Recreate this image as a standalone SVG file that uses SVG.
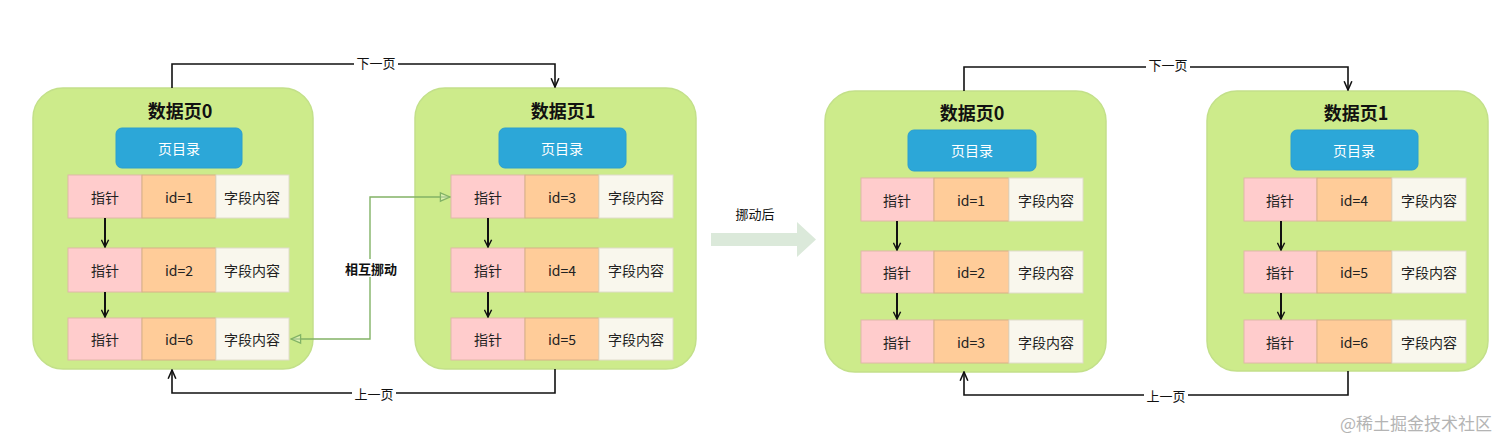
<svg xmlns="http://www.w3.org/2000/svg" width="1512" height="447" viewBox="0 0 1512 447">
<defs>
<style>
.page{fill:#cdeb8b;stroke:#c3e08a;stroke-width:1.5}
.dir{fill:#2ca7d8;stroke:#2a9fcf;stroke-width:1}
.ptr{fill:#ffcccc;stroke:#e0b8a8;stroke-width:1}
.id{fill:#ffcc99;stroke:#d8b088;stroke-width:1}
.fld{fill:#f9f7ed;stroke:#e0dccb;stroke-width:1}
text{font-family:"Noto Sans CJK SC","Liberation Sans",sans-serif;text-anchor:middle;dominant-baseline:central}
.title{font-size:18px;font-weight:bold;fill:#111}
.cell{font-size:14px;fill:#222}
.dirt{font-size:14px;fill:#fff}
.lbl{font-size:13px;fill:#111}
.blk{fill:none;stroke:#111;stroke-width:1.6}
.vptr{fill:none;stroke:#111;stroke-width:2}
.grn{fill:none;stroke:#82b366;stroke-width:1.4}
</style>
<marker id="ah" viewBox="0 0 10 10" refX="9" refY="5" markerWidth="9" markerHeight="9" markerUnits="userSpaceOnUse" orient="auto">
<path d="M1,1 L9,5 L1,9" fill="none" stroke="#111" stroke-width="1.6"/>
</marker>
<marker id="ah2" viewBox="0 0 10 10" refX="9" refY="5" markerWidth="11" markerHeight="11" markerUnits="userSpaceOnUse" orient="auto">
<path d="M1,1.5 L9,5 L1,8.5" fill="none" stroke="#111" stroke-width="1.4"/>
</marker>
<marker id="ahg" viewBox="0 0 10 10" refX="9" refY="5" markerWidth="12" markerHeight="12" markerUnits="userSpaceOnUse" orient="auto">
<path d="M1,1.5 L9,5 L1,8.5 Z" fill="#ffffff" fill-opacity="0.3" stroke="#82b366" stroke-width="1.1"/>
</marker>
</defs>
<rect width="1512" height="447" fill="#ffffff"/>

<g id="page0-before">
<rect class="page" x="33" y="88" width="280" height="281" rx="30"/>
<text class="title" x="180" y="110">数据页0</text>
<rect class="dir" x="116" y="128" width="126" height="40" rx="6"/>
<text class="dirt" x="179" y="148">页目录</text>
<rect class="ptr" x="68" y="175" width="74" height="43"/><rect class="id" x="142" y="175" width="74" height="43"/><rect class="fld" x="216" y="175" width="73" height="43"/>
<text class="cell" x="105" y="197">指针</text><text class="cell" x="179" y="197">id=1</text><text class="cell" x="252" y="197">字段内容</text>
<rect class="ptr" x="68" y="248" width="74" height="44"/><rect class="id" x="142" y="248" width="74" height="44"/><rect class="fld" x="216" y="248" width="73" height="44"/>
<text class="cell" x="105" y="270">指针</text><text class="cell" x="179" y="270">id=2</text><text class="cell" x="252" y="270">字段内容</text>
<rect class="ptr" x="68" y="318" width="74" height="42"/><rect class="id" x="142" y="318" width="74" height="42"/><rect class="fld" x="216" y="318" width="73" height="42"/>
<text class="cell" x="105" y="339">指针</text><text class="cell" x="179" y="339">id=6</text><text class="cell" x="252" y="339">字段内容</text>
</g>

<g id="page1-before">
<rect class="page" x="415" y="88" width="281" height="281" rx="30"/>
<text class="title" x="563" y="110">数据页1</text>
<rect class="dir" x="499" y="128" width="127" height="40" rx="6"/>
<text class="dirt" x="562" y="148">页目录</text>
<rect class="ptr" x="451" y="175" width="74" height="43"/><rect class="id" x="525" y="175" width="74" height="43"/><rect class="fld" x="599" y="175" width="74" height="43"/>
<text class="cell" x="488" y="197">指针</text><text class="cell" x="562" y="197">id=3</text><text class="cell" x="636" y="197">字段内容</text>
<rect class="ptr" x="451" y="248" width="74" height="44"/><rect class="id" x="525" y="248" width="74" height="44"/><rect class="fld" x="599" y="248" width="74" height="44"/>
<text class="cell" x="488" y="270">指针</text><text class="cell" x="562" y="270">id=4</text><text class="cell" x="636" y="270">字段内容</text>
<rect class="ptr" x="451" y="318" width="74" height="42"/><rect class="id" x="525" y="318" width="74" height="42"/><rect class="fld" x="599" y="318" width="74" height="42"/>
<text class="cell" x="488" y="339">指针</text><text class="cell" x="562" y="339">id=5</text><text class="cell" x="636" y="339">字段内容</text>
</g>

<g id="page0-after">
<rect class="page" x="825" y="91" width="281" height="281" rx="30"/>
<text class="title" x="972" y="112">数据页0</text>
<rect class="dir" x="908" y="130" width="128" height="41" rx="6"/>
<text class="dirt" x="972" y="150">页目录</text>
<rect class="ptr" x="861" y="178" width="73" height="43"/><rect class="id" x="934" y="178" width="75" height="43"/><rect class="fld" x="1009" y="178" width="74" height="43"/>
<text class="cell" x="897" y="200">指针</text><text class="cell" x="971" y="200">id=1</text><text class="cell" x="1046" y="200">字段内容</text>
<rect class="ptr" x="861" y="251" width="73" height="42"/><rect class="id" x="934" y="251" width="75" height="42"/><rect class="fld" x="1009" y="251" width="74" height="42"/>
<text class="cell" x="897" y="272">指针</text><text class="cell" x="971" y="272">id=2</text><text class="cell" x="1046" y="272">字段内容</text>
<rect class="ptr" x="861" y="320" width="73" height="43"/><rect class="id" x="934" y="320" width="75" height="43"/><rect class="fld" x="1009" y="320" width="74" height="43"/>
<text class="cell" x="897" y="342">指针</text><text class="cell" x="971" y="342">id=3</text><text class="cell" x="1046" y="342">字段内容</text>
</g>

<g id="page1-after">
<rect class="page" x="1207" y="91" width="281" height="280" rx="30"/>
<text class="title" x="1356" y="112">数据页1</text>
<rect class="dir" x="1291" y="130" width="127" height="40" rx="6"/>
<text class="dirt" x="1354" y="150">页目录</text>
<rect class="ptr" x="1244" y="178" width="73" height="43"/><rect class="id" x="1317" y="178" width="75" height="43"/><rect class="fld" x="1392" y="178" width="74" height="43"/>
<text class="cell" x="1280" y="200">指针</text><text class="cell" x="1354" y="200">id=4</text><text class="cell" x="1429" y="200">字段内容</text>
<rect class="ptr" x="1244" y="251" width="73" height="42"/><rect class="id" x="1317" y="251" width="75" height="42"/><rect class="fld" x="1392" y="251" width="74" height="42"/>
<text class="cell" x="1280" y="272">指针</text><text class="cell" x="1354" y="272">id=5</text><text class="cell" x="1429" y="272">字段内容</text>
<rect class="ptr" x="1244" y="320" width="73" height="43"/><rect class="id" x="1317" y="320" width="75" height="43"/><rect class="fld" x="1392" y="320" width="74" height="43"/>
<text class="cell" x="1280" y="342">指针</text><text class="cell" x="1354" y="342">id=6</text><text class="cell" x="1429" y="342">字段内容</text>
</g>

<g id="move-arrow">
<polygon points="711,233 797,233 797,222 816,239.5 797,257 797,246 711,246" fill="#dbe9da"/>
<text class="lbl" x="755" y="213">挪动后</text>
</g>

<g id="connectors">
<path class="vptr" d="M105,218 V247" marker-end="url(#ah)"/>
<path class="vptr" d="M105,292 V317" marker-end="url(#ah)"/>
<path class="vptr" d="M488,218 V247" marker-end="url(#ah)"/>
<path class="vptr" d="M488,292 V317" marker-end="url(#ah)"/>
<path class="vptr" d="M897,221 V250" marker-end="url(#ah)"/>
<path class="vptr" d="M897,293 V319" marker-end="url(#ah)"/>
<path class="vptr" d="M1281,221 V250" marker-end="url(#ah)"/>
<path class="vptr" d="M1281,293 V319" marker-end="url(#ah)"/>
<path class="blk" d="M172,88 V64 H555 V87" marker-end="url(#ah2)"/>
<rect x="354" y="55" width="44" height="16" fill="#fff"/>
<text class="lbl" x="376" y="62">下一页</text>
<path class="blk" d="M555,369 V393 H172 V370" marker-end="url(#ah2)"/>
<rect x="352" y="385" width="44" height="16" fill="#fff"/>
<text class="lbl" x="374" y="393">上一页</text>
<path class="blk" d="M964,91 V67 H1348 V90" marker-end="url(#ah2)"/>
<rect x="1146" y="57" width="44" height="16" fill="#fff"/>
<text class="lbl" x="1168" y="64">下一页</text>
<path class="blk" d="M1348,371 V395 H964 V372" marker-end="url(#ah2)"/>
<rect x="1144" y="387" width="44" height="16" fill="#fff"/>
<text class="lbl" x="1166" y="395">上一页</text>
<path class="grn" d="M370,268 V197 H450" marker-end="url(#ahg)"/>
<path class="grn" d="M370,268 V339 H291" marker-end="url(#ahg)"/>
<rect x="338" y="259" width="66" height="18" fill="#fff"/>
<text class="lbl" x="371" y="268" font-weight="bold" font-size="14">相互挪动</text>
</g>

<text x="1416" y="422" font-size="17" fill="#b4b4b4" style="font-family:'Noto Sans CJK SC',sans-serif">@稀土掘金技术社区</text>
</svg>
